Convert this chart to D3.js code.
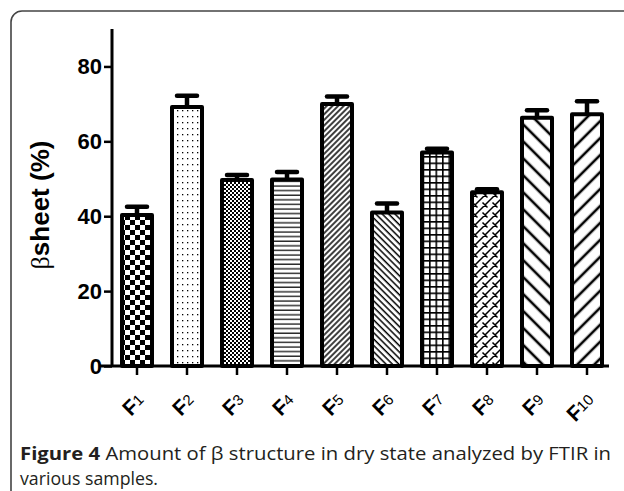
<!DOCTYPE html>
<html>
<head>
<meta charset="utf-8">
<script src="https://cdn.jsdelivr.net/npm/d3@7"></script>
<style>
  body { margin: 0; background: #fff; }
  svg { display: block; }
</style>
</head>
<body>
<svg id="chart"></svg>
<script>
const samples = ["1", "2", "3", "4", "5", "6", "7", "8", "9", "10"];
const betaSheet = [40.3, 69.2, 49.7, 49.8, 70.0, 41.0, 57.0, 46.4, 66.3, 67.2];
const errorUp = [2.2, 3.0, 1.3, 2.0, 2.0, 2.4, 1.0, 0.8, 2.0, 3.5];
const yTicks = [0, 20, 40, 60, 80];
const patternIds = ["checkBig", "dots", "checkSmall", "hlines", "diagFine", "backFine",
                    "grid", "brick", "backWide", "diagWide"];

const width = 624;
const height = 491;

const svg = d3.select("#chart").attr("width", width).attr("height", height);

// frame round the figure
svg.append("rect")
  .attr("x", 11).attr("y", 11)
  .attr("width", 640).attr("height", 500)
  .attr("rx", 11)
  .attr("fill", "none")
  .attr("stroke", "#444")
  .attr("stroke-width", 1.6);

// patterns
const defs = svg.append("defs");
function pat(id, w, h) {
  return defs.append("pattern").attr("id", id)
    .attr("patternUnits", "userSpaceOnUse")
    .attr("width", w).attr("height", h);
}
let p = pat("checkBig", 10, 10);
p.append("rect").attr("width", 10).attr("height", 10).attr("fill", "#fff");
p.append("rect").attr("width", 5).attr("height", 5).attr("fill", "#000");
p.append("rect").attr("x", 5).attr("y", 5).attr("width", 5).attr("height", 5).attr("fill", "#000");

p = pat("dots", 5, 6);
p.append("rect").attr("width", 5).attr("height", 6).attr("fill", "#fff");
p.append("rect").attr("x", 2).attr("y", 2).attr("width", 1.3).attr("height", 1.3).attr("fill", "#000");

p = pat("checkSmall", 4, 4);
p.append("rect").attr("width", 4).attr("height", 4).attr("fill", "#fff");
p.append("rect").attr("width", 2).attr("height", 2).attr("fill", "#000");
p.append("rect").attr("x", 2).attr("y", 2).attr("width", 2).attr("height", 2).attr("fill", "#000");

p = pat("hlines", 8, 4.6);
p.append("rect").attr("width", 8).attr("height", 4.6).attr("fill", "#fff");
p.append("line").attr("x1", 0).attr("x2", 8).attr("y1", 2).attr("y2", 2)
  .attr("stroke", "#000").attr("stroke-width", 1.2);

p = pat("diagFine", 4, 4).attr("patternTransform", "rotate(45)");
p.append("rect").attr("width", 4).attr("height", 4).attr("fill", "#fff");
p.append("line").attr("x1", 2).attr("x2", 2).attr("y1", 0).attr("y2", 4)
  .attr("stroke", "#000").attr("stroke-width", 1.5);

p = pat("backFine", 4.5, 4.5).attr("patternTransform", "rotate(-45)");
p.append("rect").attr("width", 4.5).attr("height", 4.5).attr("fill", "#fff");
p.append("line").attr("x1", 2).attr("x2", 2).attr("y1", 0).attr("y2", 4.5)
  .attr("stroke", "#000").attr("stroke-width", 1.5);

p = pat("grid", 6.5, 6.5);
p.append("rect").attr("width", 6.5).attr("height", 6.5).attr("fill", "#fff");
p.append("path").attr("d", "M0,0.8H6.5M0.8,0V6.5")
  .attr("stroke", "#000").attr("stroke-width", 1.6).attr("fill", "none");

p = pat("brick", 10, 10);
p.append("rect").attr("width", 10).attr("height", 10).attr("fill", "#fff");
p.append("path").attr("d", "M0,10L10,0M-5,5L5,-5M5,15L15,5M2.5,2.5L7.5,7.5M-2.5,7.5L2.5,12.5M7.5,-2.5L12.5,2.5")
  .attr("stroke", "#000").attr("stroke-width", 1.5).attr("fill", "none");

p = pat("backWide", 12, 12).attr("patternTransform", "rotate(-45)");
p.append("rect").attr("width", 12).attr("height", 12).attr("fill", "#fff");
p.append("line").attr("x1", 6).attr("x2", 6).attr("y1", 0).attr("y2", 12)
  .attr("stroke", "#000").attr("stroke-width", 2.6);

p = pat("diagWide", 12, 12).attr("patternTransform", "rotate(45)");
p.append("rect").attr("width", 12).attr("height", 12).attr("fill", "#fff");
p.append("line").attr("x1", 6).attr("x2", 6).attr("y1", 0).attr("y2", 12)
  .attr("stroke", "#000").attr("stroke-width", 2.6);

// scales
const x = d3.scaleBand().domain(samples).range([112, 612]).paddingInner(0.4).paddingOuter(0.2);
const y = d3.scaleLinear().domain([0, 90]).range([366, 29]);

// bars
const data = samples.map((s, i) => ({ s: s, v: betaSheet[i], e: errorUp[i], p: patternIds[i] }));

const err = svg.append("g");
err.selectAll("line.stem").data(data).join("line")
  .attr("x1", d => x(d.s) + x.bandwidth() / 2)
  .attr("x2", d => x(d.s) + x.bandwidth() / 2)
  .attr("y1", d => y(d.v)).attr("y2", d => y(d.v + d.e))
  .attr("stroke", "#000").attr("stroke-width", 4.5);
err.selectAll("line.cap").data(data).join("line")
  .attr("x1", d => x(d.s) + x.bandwidth() / 2 - 10)
  .attr("x2", d => x(d.s) + x.bandwidth() / 2 + 10)
  .attr("y1", d => y(d.v + d.e)).attr("y2", d => y(d.v + d.e))
  .attr("stroke", "#000").attr("stroke-width", 4.5).attr("stroke-linecap", "round");

svg.append("g").selectAll("rect").data(data).join("rect")
  .attr("x", d => x(d.s))
  .attr("width", x.bandwidth())
  .attr("y", d => y(d.v))
  .attr("height", d => y(0) - y(d.v))
  .attr("fill", d => `url(#${d.p})`)
  .attr("stroke", "#000")
  .attr("stroke-width", 4)
  .attr("stroke-linejoin", "round");

// y axis
const yAxis = d3.axisLeft(y).tickValues(yTicks).tickSize(8).tickPadding(2);
const gy = svg.append("g").attr("transform", "translate(112,0)").call(yAxis);
gy.select(".domain").attr("d", `M0,${y(90)}V${y(0)}`).attr("stroke-width", 3);
gy.selectAll(".tick line").attr("stroke-width", 2.5);
gy.selectAll(".tick text")
  .attr("font-family", "Liberation Sans, Arial, sans-serif")
  .attr("font-weight", "bold").attr("font-size", 22).attr("fill", "#000");

// x axis
const xAxis = d3.axisBottom(x).tickSize(9).tickFormat("");
const gx = svg.append("g").attr("transform", `translate(0,${y(0)})`).call(xAxis);
gx.select(".domain").attr("d", "M100,0H609").attr("stroke-width", 3);
gx.selectAll(".tick line").attr("stroke-width", 2.5);

// x labels, F with small number
const xl = svg.append("g").selectAll("text").data(samples).join("text")
  .attr("transform", d => `translate(${x(d) + x.bandwidth() / 2 + 9},${y(0) + 36}) rotate(-45)`)
  .attr("text-anchor", "end")
  .attr("font-family", "Liberation Sans, Arial, sans-serif")
  .attr("font-weight", "bold").attr("font-size", 21);
xl.append("tspan").text("F");
xl.append("tspan").attr("font-size", 15).attr("font-weight", "normal").attr("dy", -2).text(d => d);

// y label
svg.append("text")
  .attr("transform", "translate(49,205) rotate(-90)")
  .attr("text-anchor", "middle")
  .attr("font-family", "Liberation Sans, Arial, sans-serif")
  .attr("font-size", 26)
  .call(t => {
    t.append("tspan").attr("font-family", "Liberation Serif, serif").text("β");
    t.append("tspan").attr("font-weight", "bold").text("sheet (%)");
  });

// caption
const cap = svg.append("g")
  .attr("font-family", "Open Sans, sans-serif")
  .attr("font-size", 18).attr("fill", "#231f20");
const line1 = cap.append("text").attr("x", 20).attr("y", 460)
  .attr("textLength", 591).attr("lengthAdjust", "spacingAndGlyphs");
line1.append("tspan").attr("font-weight", "bold").text("Figure 4");
line1.append("tspan").text(" Amount of β structure in dry state analyzed by FTIR in");
cap.append("text").attr("x", 20).attr("y", 485)
  .attr("textLength", 138).attr("lengthAdjust", "spacingAndGlyphs")
  .text("various samples.");
</script>
</body>
</html>
